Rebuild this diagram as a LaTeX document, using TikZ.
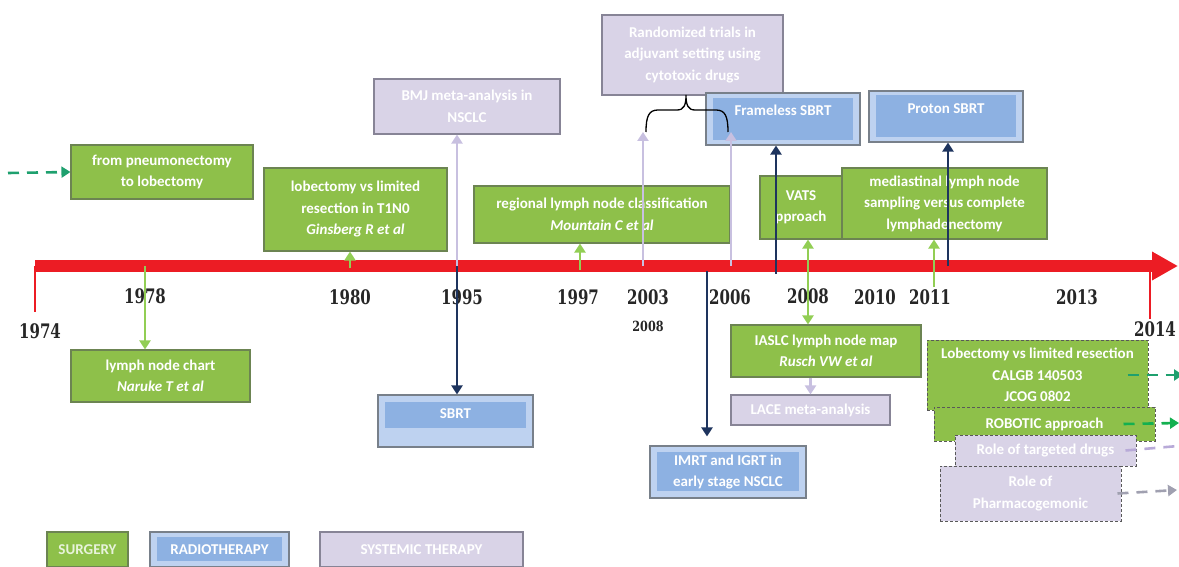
\documentclass[tikz,border=0pt]{standalone}
\usepackage{fontspec}
\usepackage{graphicx}
\usetikzlibrary{arrows.meta}
\newfontfamily\boxfont{Carlito}
\newfontfamily\yearfont{DejaVu Serif}
\definecolor{surgfill}{RGB}{142,192,74}
\definecolor{surgline}{RGB}{108,132,82}
\definecolor{systfill}{RGB}{217,211,231}
\definecolor{systline}{RGB}{135,132,150}
\definecolor{radouter}{RGB}{190,210,240}
\definecolor{radinner}{RGB}{141,177,226}
\definecolor{radline}{RGB}{120,128,138}
\definecolor{tlred}{RGB}{236,28,36}
\definecolor{agreen}{RGB}{146,206,84}
\definecolor{anavy}{RGB}{30,52,94}
\definecolor{alav}{RGB}{200,192,224}
\definecolor{dteal}{RGB}{30,160,110}
\definecolor{dgreen}{RGB}{20,176,80}
\definecolor{dlav}{RGB}{184,170,216}
\definecolor{dgray}{RGB}{160,160,176}
\newcommand{\yr}[2][0.75]{\scalebox{#1}[1]{#2}}
\tikzset{
    box/.style={inner sep=0pt,align=center,text=white,line width=1.1pt,
        font=\boxfont\bfseries\fontsize{15}{21.5}\selectfont},
    surg/.style={box,draw=surgline,fill=surgfill},
    syst/.style={box,draw=systline,fill=systfill},
    radio/.style 2 args={box,draw=radline,fill=radouter,
        path picture={\fill[radinner] ([shift={(7pt,-#1)}]path picture bounding box.north west)
            rectangle ([shift={(-7pt,#2)}]path picture bounding box.south east);}},
    plan/.style={draw=black!65,dash pattern=on 3pt off 2pt,line width=1pt},
    year/.style={inner sep=0pt,text=black!85,font=\yearfont\bfseries\fontsize{20}{20}\selectfont},
    tip/.style={-{Triangle[length=9pt,width=11pt]}},
    gline/.style={tip,draw=agreen,line width=2.6pt},
    nline/.style={tip,draw=anavy,line width=2.6pt},
    sline/.style={tip,draw=alav,line width=2.6pt},
    fwd/.style={tip,line width=2.6pt,dash pattern=on 11pt off 8pt},
}
\begin{document}
\begin{tikzpicture}[x=1pt,y=-1pt]
\useasboundingbox (0,0) rectangle (1179,567);
% timeline
\coordinate (tl0) at (35,266);
\coordinate (tl1) at (1178,266);
\coordinate (tk0) at (35,312);
\coordinate (tr0) at (1150,266);
\coordinate (tr1) at (1150,319);
\draw[tlred,line width=12pt,-{Triangle[length=26pt,width=27pt]}] (tl0) -- (tl1);
\draw[tlred,line width=2pt] (tl0) -- (tk0);
\draw[tlred,line width=2pt] (tr0) -- (tr1);

\node[year] (y1974) at (40,331) {\yr{1974}};
\node[year] (y1978) at (145,296) {\yr{1978}};
\node[year] (y1980) at (350,297) {\yr{1980}};
\node[year] (y1995) at (462,297) {\yr{1995}};
\node[year] (y1997) at (578,297) {\yr{1997}};
\node[year] (y2003) at (648,297) {\yr{2003}};
\node[year,font=\yearfont\bfseries\fontsize{14}{14}\selectfont] (y2008b) at (648,326) {\yr[0.8]{2008}};
\node[year] (y2006) at (730,297) {\yr{2006}};
\node[year] (y2008) at (808,296) {\yr{2008}};
\node[year] (y2010) at (875,297) {\yr{2010}};
\node[year] (y2011) at (930,297) {\yr{2011}};
\node[year] (y2013) at (1077,297) {\yr{2013}};
\node[year] (y2014) at (1155,329) {\yr{2014}};

% events
\node[surg,minimum width=182pt,minimum height=54pt] (pneumo) at (162,172) {from pneumonectomy\\to lobectomy};
\node[surg,minimum width=183pt,minimum height=83pt] (ginsberg) at (355.5,209.5) {lobectomy vs limited\\resection in T1N0\\{\itshape Ginsberg R et al}};
\node[surg,minimum width=179pt,minimum height=52pt] (naruke) at (160.5,376) {lymph node chart\\{\itshape Naruke T et al}};
\node[syst,minimum width=186pt,minimum height=55pt] (bmj) at (467,106.5) {BMJ meta-analysis in\\NSCLC};
\node[radio={7pt}{19pt},minimum width=155pt,minimum height=52pt,text height=14pt,text depth=20pt] (sbrt) at (455.5,421) {SBRT};
\node[surg,minimum width=256pt,minimum height=57pt] (mountain) at (602,214.5) {regional lymph node classification\\{\itshape Mountain C et al}};
\node[syst,minimum width=181pt,minimum height=80pt] (adjuv) at (692.5,55) {Randomized trials in\\adjuvant setting using\\cytotoxic drugs};
\node[radio={5pt}{5pt},minimum width=154pt,minimum height=52pt,text height=14pt,text depth=20pt] (frameless) at (783,119) {Frameless SBRT};
\node[surg,minimum width=82pt,minimum height=63pt] (vats) at (801,207.5) {VATS\\pproach};
\node[surg,minimum width=205pt,minimum height=71pt] (mediast) at (944.5,203.5) {mediastinal lymph node\\sampling versus complete\\lymphadenectomy};
\node[radio={4pt}{5pt},minimum width=154pt,minimum height=51pt,text height=14pt,text depth=20pt] (proton) at (946,116.5) {Proton SBRT};
\node[surg,minimum width=190pt,minimum height=52pt] (iaslc) at (826,351) {IASLC lymph node map\\{\itshape Rusch VW et al}};
\node[syst,minimum width=159pt,minimum height=30pt] (lace) at (810.5,410) {LACE meta-analysis};
\node[radio={6pt}{7pt},minimum width=156pt,minimum height=52pt] (imrt) at (728,472) {IMRT and IGRT in\\early stage NSCLC};
\node[surg,plan,minimum width=221pt,minimum height=70pt] (calgb) at (1037.5,375) {Lobectomy vs limited resection\\CALGB 140503\\JCOG 0802};
\node[surg,plan,minimum width=221pt,minimum height=34pt] (robotic) at (1044.5,424) {ROBOTIC approach};
\node[syst,plan,minimum width=181pt,minimum height=31pt] (target) at (1045.5,450.5) {Role of targeted drugs};
\node[syst,plan,minimum width=181pt,minimum height=55pt] (pharma) at (1030.5,493.5) {Role of\\Pharmacogemonic};

% legend
\node[surg,minimum width=81pt,minimum height=35pt,text=white!80!surgfill] (lsurg) at (87.5,549.5) {SURGERY};
\node[radio={5pt}{6pt},minimum width=139pt,minimum height=35pt] (lradio) at (219.5,549.5) {RADIOTHERAPY};
\node[syst,minimum width=203pt,minimum height=35pt] (lsyst) at (421.5,549.5) {SYSTEMIC THERAPY};

% links to the timeline
\coordinate (d0) at (8,173);
\coordinate (g78) at (145,266);
\coordinate (g80) at (350,268);
\coordinate (s95) at (457,266);
\coordinate (g97) at (580,270);
\coordinate (s03) at (643,266);
\coordinate (s06) at (731,266);
\coordinate (n06) at (707,271);
\coordinate (n08) at (776,274);
\coordinate (g08) at (808,266);
\coordinate (n11) at (948,266);
\coordinate (g11) at (934,287);
\coordinate (brL) at (646,132);
\coordinate (brR) at (728,132);
\coordinate (brT) at (686,95);
\coordinate (e1) at (1183,375);
\coordinate (e2) at (1179,423);
\coordinate (e3) at (1190,445);
\coordinate (e4) at (1177,490);

\draw[fwd,draw=dteal] (d0) -- (pneumo.west);
\draw[gline] (g78) -- (g78 |- naruke.north);
\draw[gline] (g80) -- (g80 |- ginsberg.south);
\draw[sline] (s95) -- (s95 |- bmj.south);
\draw[nline] (s95) -- (s95 |- sbrt.north);
\draw[gline] (g97) -- (g97 |- mountain.south);
\draw[sline] (s03) -- (s03 |- brL);
\draw[sline] (s06) -- (s06 |- brR);
\draw[black,line width=1.3pt] (brL) .. controls (646,116) and (649,110) .. (658,110) -- (677,110)
    .. controls (684,110) and (686,105) .. (brT) .. controls (686,105) and (688,110) .. (695,110)
    -- (716,110) .. controls (725,110) and (728,116) .. (brR);
\draw[nline] (n06) -- (n06 |- imrt.north) [shorten >=9pt];
\draw[nline] (n08) -- (n08 |- frameless.south);
\draw[gline,{Triangle[length=9pt,width=11pt]}-{Triangle[length=9pt,width=11pt]}] (g08 |- vats.south) -- (g08 |- iaslc.north);
\draw[nline] (n11) -- (n11 |- proton.south);
\draw[gline] (g11) -- (g11 |- mediast.south);
\draw[sline] (lace.north |- iaslc.south) -- (lace.north);
\draw[fwd,draw=dteal] ([xshift=-21pt]calgb.east) -- (e1);
\draw[fwd,draw=dgreen] ([xshift=-32pt]robotic.east) -- (e2);
\draw[fwd,draw=dlav] ([xshift=-11pt]target.east) -- (e3);
\draw[fwd,draw=dgray] ([xshift=-4pt]pharma.east) -- (e4);
\end{tikzpicture}
\end{document}
